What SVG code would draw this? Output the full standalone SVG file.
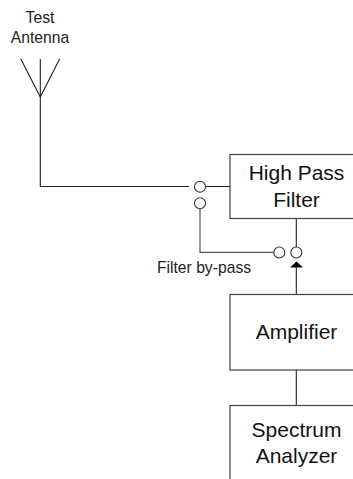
<svg xmlns="http://www.w3.org/2000/svg" width="353" height="479" viewBox="0 0 353 479">
<style>
.box{fill:#fff;stroke:#404040;stroke-width:1.2}
.ln{fill:none;stroke:#222;stroke-width:1.1}
.gr{fill:none;stroke:#555;stroke-width:1.2}
.sw{fill:#fff;stroke:#333;stroke-width:1.1}
.big{font-family:"Liberation Sans",Arial,sans-serif;font-size:21px;fill:#111;text-anchor:middle}
.sm{font-family:"Liberation Sans",Arial,sans-serif;font-size:15.7px;fill:#222;text-anchor:middle}
</style>
<g id="connectors">
<path class="ln" d="M40.300 59V186.500H189"/>
<path class="ln" d="M206 186.500H230"/>
<path class="gr" d="M200 209V252.300H274"/>
<path class="ln" d="M296.300 218V247"/>
<path class="ln" d="M296.300 266V294"/>
<path d="M290 267.500L296.500 261.500L303 267.500Z" fill="#000"/>
<path class="ln" d="M296.300 370V405"/>
</g>
<g id="antenna">
<path class="ln" d="M20.700 58.700L40.300 97L59.700 58.700"/>
<text class="sm" x="40" y="22.500">Test</text>
<text class="sm" x="40" y="42.700">Antenna</text>
</g>
<g id="switch">
<circle class="sw" cx="200" cy="186.700" r="5.500"/>
<circle class="sw" cx="200" cy="203.300" r="5.500"/>
<circle class="sw" cx="279.300" cy="252.500" r="5.500"/>
<circle class="sw" cx="296.300" cy="252.500" r="5.500"/>
</g>
<g id="bypass-label"><text class="sm" x="204" y="272.500">Filter by-pass</text></g>
<g id="hpf">
<rect class="box" x="230" y="154.500" width="130" height="64"/>
<text class="big" x="296.500" y="180">High Pass</text>
<text class="big" x="296.500" y="206.500">Filter</text>
</g>
<g id="amplifier">
<rect class="box" x="230" y="294.500" width="130" height="75.500"/>
<text class="big" x="296.500" y="339">Amplifier</text>
</g>
<g id="analyzer">
<rect class="box" x="230" y="405.500" width="130" height="90"/>
<text class="big" x="296.500" y="436.500">Spectrum</text>
<text class="big" x="296.500" y="462.500">Analyzer</text>
</g>
</svg>
